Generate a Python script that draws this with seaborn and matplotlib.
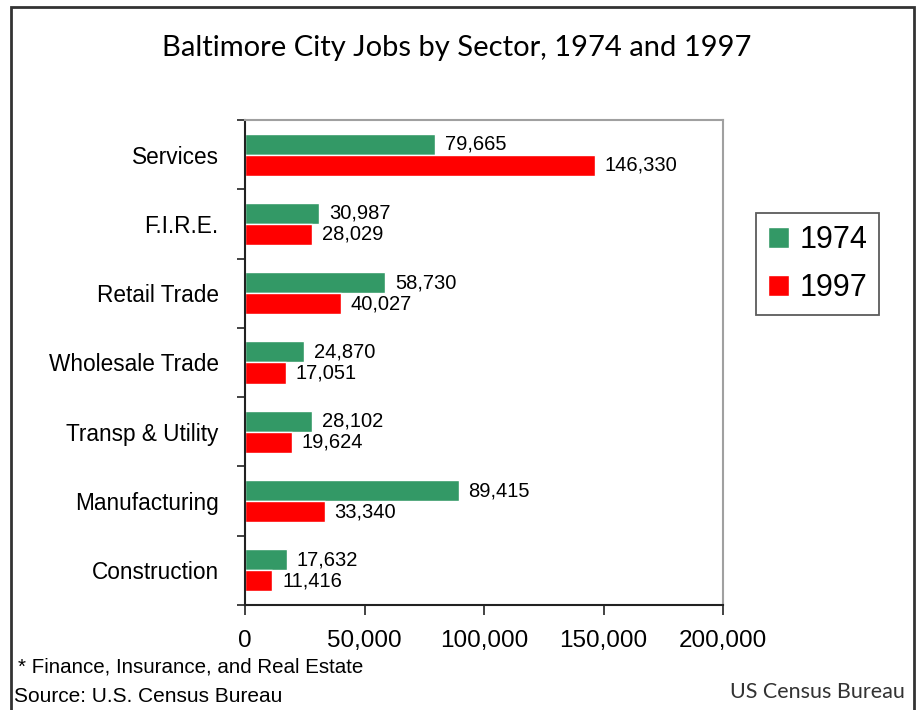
"""
Baltimore City jobs by sector, 1974 vs 1997
"""
import pandas as pd
import seaborn as sns
import matplotlib.pyplot as plt
from matplotlib.patches import Rectangle

sectors = ['Services', 'F.I.R.E.', 'Retail Trade', 'Wholesale Trade',
           'Transp & Utility', 'Manufacturing', 'Construction']
jobs_1974 = [79665, 30987, 58730, 24870, 28102, 89415, 17632]
jobs_1997 = [146330, 28029, 40027, 17051, 19624, 33340, 11416]
years = ['1974', '1997']
colors = ['#339966', '#ff0000']
x_ticks = [0, 50000, 100000, 150000, 200000]

df = pd.DataFrame({
    'sector': sectors * 2,
    'jobs': jobs_1974 + jobs_1997,
    'year': [years[0]] * len(sectors) + [years[1]] * len(sectors),
})

sns.set_style('white')
plt.rcParams['font.family'] = ['Liberation Sans', 'DejaVu Sans']
plt.rcParams['text.color'] = 'black'
plt.rcParams['xtick.labelcolor'] = 'black'
plt.rcParams['ytick.labelcolor'] = 'black'

fig = plt.figure(figsize=(9.19, 7.10), dpi=100)
ax = fig.add_axes([245 / 919, 1 - 605 / 710, 478 / 919, 485 / 710])

sns.barplot(data=df, x='jobs', y='sector', hue='year', order=sectors,
            hue_order=years, palette=colors, width=0.61, orient='h',
            saturation=1, ax=ax, legend=True)

for cont in ax.containers:
    ax.bar_label(cont, labels=[f'{v:,.0f}' for v in cont.datavalues],
                 padding=7, fontsize=14.5, color='black')

ax.set_xlim(0, 200000)
ax.set_ylim(len(sectors) - 0.5, -0.5)
ax.set_xticks(x_ticks)
ax.set_xticklabels([f'{t:,}' for t in x_ticks], fontsize=17.5)
ax.tick_params(axis='x', direction='out', length=7, width=1.2, pad=11,
               bottom=True, color='#222222', labelcolor='black')

# category boundaries get the tick marks, the names sit in between
ax.set_yticks([i - 0.5 for i in range(len(sectors) + 1)])
ax.set_yticklabels([])
ax.set_yticks(range(len(sectors)), minor=True)
ax.set_yticklabels(sectors, minor=True, fontsize=16.3)
ax.tick_params(axis='y', which='major', direction='out', length=6,
               width=1.2, left=True, color='#222222')
ax.tick_params(axis='y', which='minor', length=0, pad=19, labelcolor='black')
ax.set_xlabel('')
ax.set_ylabel('')

for side in ['left', 'bottom']:
    ax.spines[side].set_color('#222222')
    ax.spines[side].set_linewidth(1.5)
for side in ['top', 'right']:
    ax.spines[side].set_color('#a0a0a0')
    ax.spines[side].set_linewidth(1.5)

leg = ax.legend(loc='center left', bbox_to_anchor=(756 / 919, 1 - 264 / 710),
                bbox_transform=fig.transFigure, fontsize=22, frameon=True,
                fancybox=False, edgecolor='#333333', handlelength=0.67,
                handleheight=0.67, handletextpad=0.35, labelspacing=0.6,
                borderpad=0.4, borderaxespad=0)
leg.get_frame().set_linewidth(1.3)
for t in leg.get_texts():
    t.set_color('black')

fig.text(0.497, 1 - 48 / 710, 'Baltimore City Jobs by Sector, 1974 and 1997',
         ha='center', va='center', fontsize=21, family=['Lato', 'DejaVu Sans'],
         color='black')
fig.text(18 / 919, 1 - 667 / 710, '* Finance, Insurance, and Real Estate',
         ha='left', va='center', fontsize=14.8, color='black')
fig.text(14 / 919, 1 - 697 / 710, 'Source: U.S. Census Bureau',
         ha='left', va='center', fontsize=15, color='black')
fig.text(905 / 919, 1 - 692 / 710, 'US Census Bureau',
         ha='right', va='center', fontsize=15.5, family=['Lato', 'DejaVu Sans'],
         color='#333333')

# outer frame around the whole slide
fig.add_artist(Rectangle((11 / 919, -0.02), 903 / 919, 1.02 - 7 / 710,
                         transform=fig.transFigure, fill=False,
                         edgecolor='#333333', linewidth=2))

fig.savefig('out.png', dpi=100)
